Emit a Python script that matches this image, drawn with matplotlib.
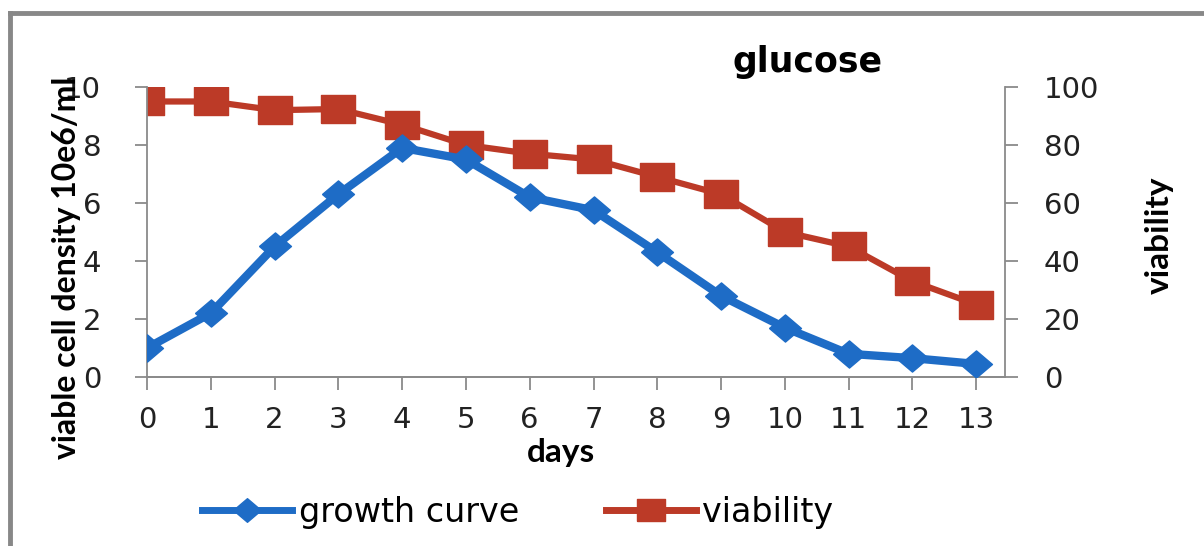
import numpy as np
import matplotlib
matplotlib.use("Agg")
import matplotlib.pyplot as plt
from matplotlib.lines import Line2D

# growth curve of cells in glucose medium
days = list(range(14))
cell_density = [1.0, 2.2, 4.5, 6.3, 7.9, 7.5, 6.2, 5.75, 4.3, 2.8, 1.7, 0.8, 0.65, 0.45]
viability = [95, 95, 92, 92.4, 87, 80, 77, 75, 69, 63, 50, 45, 33, 25]

blue = "#1e6cc6"
red = "#bc3a27"
tick_font = "DejaVu Sans"
bold_font = "Lato"

# wide markers, like the stretched chart export
diamond = [(-1, 0), (0, -0.85), (1, 0), (0, 0.85), (-1, 0)]
square = [(-1, -0.78), (1, -0.78), (1, 0.78), (-1, 0.78), (-1, -0.78)]

fig = plt.figure(figsize=(12.04, 5.46), dpi=100)
ax = fig.add_axes([0.1221, 0.3095, 0.7126, 0.5312])
ax2 = ax.twinx()

ax.plot(days, cell_density, color=blue, lw=6, marker=diamond, ms=23,
        mec=blue, mfc=blue, zorder=3)
ax2.plot(days, viability, color=red, lw=4.5, marker=square, ms=25,
         mec=red, mfc=red, zorder=2)
ax.set_zorder(ax2.get_zorder() + 1)
ax.patch.set_visible(False)

ax.set_xlim(0, 13.45)
ax.set_ylim(0, 10)
ax2.set_ylim(0, 100)
ax.set_xticks(days)
ax.set_yticks([0, 2, 4, 6, 8, 10])
ax2.set_yticks([0, 20, 40, 60, 80, 100])

for a in (ax, ax2):
    for s in a.spines.values():
        s.set_color("#8a8a8a")
        s.set_linewidth(1.3)
    a.spines["top"].set_visible(False)
    a.tick_params(length=9, width=1.3, color="#8a8a8a", labelsize=21,
                  labelcolor="#222222")
    for lbl in a.get_xticklabels() + a.get_yticklabels():
        lbl.set_family(tick_font)
ax.spines["right"].set_visible(False)
ax2.spines["left"].set_visible(False)
ax.tick_params(axis="y", pad=24)
ax.tick_params(axis="x", pad=12)
ax2.tick_params(axis="y", pad=19)

fig.text(0.466, 0.172, "days", ha="center", va="center", fontsize=24,
         fontweight="bold", family=bold_font)
fig.text(0.055, 0.51, "viable cell density 10e6/ml", rotation=90,
         ha="center", va="center", fontsize=23, fontweight="bold",
         family=bold_font)
fig.text(0.963, 0.57, "viability", rotation=90, ha="center", va="center",
         fontsize=24, fontweight="bold", family=bold_font)
fig.text(0.671, 0.886, "glucose", ha="center", va="center", fontsize=25,
         fontweight="bold", family="DejaVu Sans")

handles = [
    Line2D([], [], color=blue, lw=5, marker=diamond, ms=20, mfc=blue, mec=blue),
    Line2D([], [], color=red, lw=5, marker=square, ms=20, mfc=red, mec=red),
]
fig.legend(handles, ["growth curve", "viability"], loc="center",
           bbox_to_anchor=(0.43, 0.062), ncol=2, frameon=False,
           handlelength=2.7, handletextpad=0.2, columnspacing=2.6,
           prop={"family": "DejaVu Sans", "size": 24})

# frame edges along the top and left of the figure
fig.add_artist(Line2D([0.008, 1.0], [0.976, 0.976], color="#888888", lw=3.5,
                      transform=fig.transFigure))
fig.add_artist(Line2D([0.008, 0.008], [0.0, 0.976], color="#888888", lw=3.5,
                      transform=fig.transFigure))

fig.savefig("out.png", dpi=100)
